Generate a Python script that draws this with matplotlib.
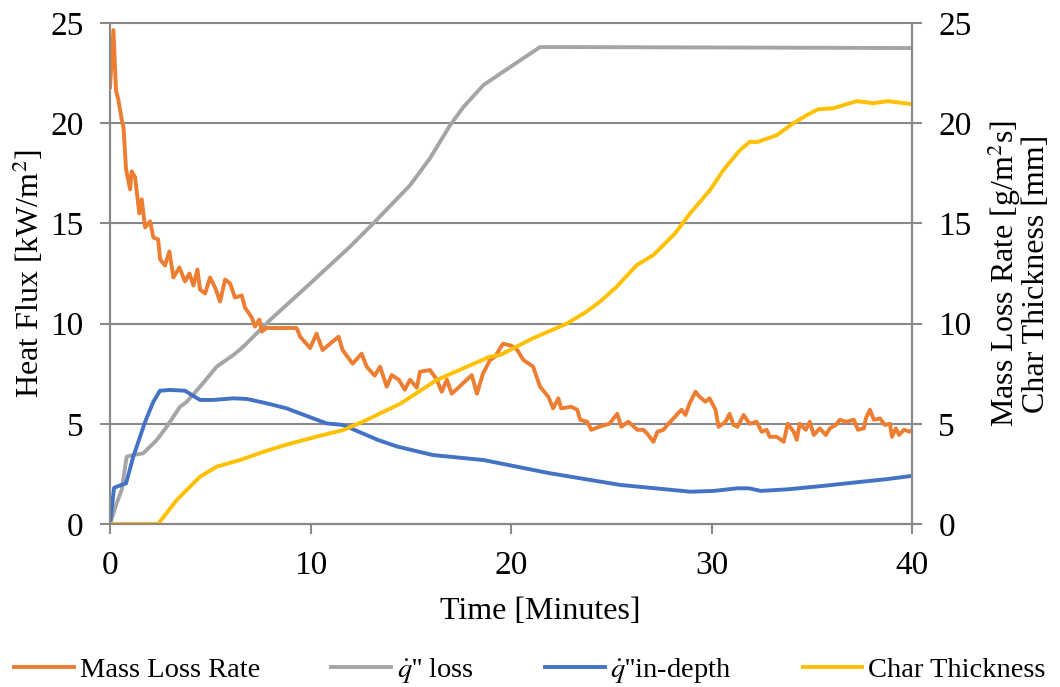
import matplotlib
matplotlib.use("Agg")
import matplotlib.pyplot as plt

plt.rcParams['font.family'] = ['Liberation Serif', 'DejaVu Serif']
plt.rcParams['mathtext.fontset'] = 'stix'

# Mass loss rate [g/m2s] (right axis)
mlr_t = [0.0, 0.17, 0.3, 0.41, 0.58, 0.67, 0.8, 1.0, 1.08, 1.25, 1.46, 1.58, 1.75, 2.0, 2.16,
         2.4, 2.5, 2.74, 2.96, 3.16, 3.46, 3.74, 3.96, 4.16, 4.36, 4.49, 4.74, 4.99, 5.24,
         5.49, 5.74, 5.99, 6.23, 6.57, 6.73, 7.07, 7.23, 7.45, 7.57, 7.8, 9.31, 9.48, 9.98,
         10.3, 10.6, 11.4, 11.6, 12.1, 12.55, 12.8, 13.2, 13.47, 13.8, 14.05, 14.4, 14.7,
         14.96, 15.3, 15.46, 15.96, 16.3, 16.54, 16.8, 17.04, 17.37, 17.8, 18.04, 18.3, 18.6,
         18.95, 19.2, 19.6, 20.0, 20.3, 20.6, 21.1, 21.45, 21.86, 22.1, 22.36, 22.5, 23.0,
         23.3, 23.45, 23.8, 24.0, 24.4, 24.9, 25.3, 25.5, 25.85, 26.3, 26.6, 26.8, 27.1,
         27.3, 27.6, 27.85, 28.1, 28.5, 28.7, 28.9, 29.2, 29.4, 29.7, 29.9, 30.2, 30.35,
         30.7, 30.9, 31.1, 31.3, 31.6, 31.9, 32.25, 32.5, 32.75, 32.9, 33.25, 33.6, 33.8,
         34.1, 34.25, 34.4, 34.7, 34.9, 35.1, 35.4, 35.7, 35.9, 36.2, 36.4, 36.7, 37.1,
         37.3, 37.6, 37.7, 37.9, 38.1, 38.4, 38.65, 38.9, 39.0, 39.2, 39.35, 39.6, 39.9, 40.0]
mlr = [21.8, 24.65, 21.6, 21.2, 20.2, 19.8, 17.7, 16.7, 17.6, 17.3, 15.5, 16.2, 14.8, 15.1, 14.3,
       14.2, 13.2, 12.9, 13.6, 12.3, 12.8, 12.1, 12.5, 11.9, 12.7, 11.7, 11.5, 12.3, 11.8,
       11.1, 12.2, 12.0, 11.3, 11.4, 10.8, 10.3, 9.85, 10.2, 9.6, 9.78, 9.78, 9.35, 8.78,
       9.5, 8.68, 9.35, 8.68, 8.0, 8.5, 7.85, 7.4, 7.85, 6.85, 7.43, 7.2, 6.7,
       7.2, 6.8, 7.6, 7.68, 7.2, 6.6, 7.2, 6.5, 6.8, 7.2, 7.43, 6.5, 7.5,
       8.18, 8.35, 9.0, 8.9, 8.7, 8.2, 7.85, 6.85, 6.35, 5.77, 6.27, 5.77, 5.85,
       5.7, 5.2, 5.1, 4.7, 4.85, 5.0, 5.5, 4.85, 5.1, 4.7, 4.7, 4.5, 4.1,
       4.6, 4.7, 5.0, 5.27, 5.7, 5.44, 6.0, 6.6, 6.35, 6.1, 6.27, 5.7, 4.85,
       5.1, 5.5, 4.94, 4.85, 5.44, 5.0, 5.1, 4.6, 4.7, 4.35, 4.35, 4.1, 5.0,
       4.6, 4.2, 5.0, 4.7, 5.1, 4.44, 4.77, 4.44, 4.77, 4.94, 5.2, 5.1, 5.2,
       4.7, 4.77, 5.27, 5.7, 5.2, 5.27, 4.94, 5.0, 4.35, 4.77, 4.44, 4.7, 4.6, 4.7]

# q'' loss [kW/m2] (left axis)
qloss_t = [0.0, 0.33, 0.58, 0.83, 1.16, 1.66, 2.33, 2.83, 3.49, 3.83, 4.49, 5.32, 6.15, 6.65,
           7.0, 7.98, 9.98, 11.97, 13.13, 14.96, 15.96, 16.96, 17.62, 18.62, 19.95, 21.45,
           22.9, 30.0, 40.0]
qloss = [0.0, 1.03, 1.7, 3.36, 3.44, 3.53, 4.19, 4.86, 5.85, 6.1, 6.85, 7.85, 8.43, 8.85,
         9.2, 10.18, 12.0, 13.84, 15.0, 16.9, 18.25, 19.9, 20.8, 21.9, 22.8, 23.8,
         23.8, 23.78, 23.75]

# q'' in-depth [kW/m2] (left axis)
qdep_t = [0.0, 0.2, 0.33, 0.8, 1.16, 1.75, 2.16, 2.49, 2.99, 3.74, 4.07, 4.49, 5.15, 6.15,
          6.82, 7.82, 8.81, 9.81, 10.8, 11.62, 13.37, 14.34, 16.1, 18.63, 21.94, 25.44,
          28.94, 30.11, 31.28, 31.87, 32.45, 33.81, 35.56, 37.51, 38.68, 40.0]
qdep = [0.0, 1.8, 1.86, 2.03, 3.36, 5.1, 6.1, 6.65, 6.69, 6.65, 6.44, 6.19, 6.19, 6.27,
        6.24, 6.02, 5.77, 5.39, 5.02, 4.94, 4.19, 3.86, 3.44, 3.19, 2.53, 1.95,
        1.61, 1.65, 1.78, 1.78, 1.65, 1.73, 1.9, 2.11, 2.23, 2.4]

# Char thickness [mm] (right axis)
char_t = [0.0, 2.4, 3.33, 4.49, 5.32, 6.48, 7.65, 8.73, 10.3, 11.64, 12.8, 13.47, 14.46,
          16.3, 18.95, 19.45, 21.1, 22.78, 23.77, 24.44, 25.27, 26.27, 27.1, 28.18, 28.93,
          29.93, 30.59, 31.42, 31.92, 32.25, 33.25, 34.08, 34.75, 35.33, 36.07, 36.74,
          37.24, 38.07, 38.8, 40.0]
char = [0.0, 0.0, 1.2, 2.36, 2.86, 3.19, 3.6, 3.94, 4.36, 4.69, 5.19, 5.52, 5.99,
        7.19, 8.35, 8.43, 9.27, 10.0, 10.6, 11.1, 11.84, 12.92, 13.42, 14.5, 15.5,
        16.67, 17.66, 18.66, 19.08, 19.05, 19.4, 20.0, 20.4, 20.7, 20.74, 20.95,
        21.1, 21.0, 21.1, 20.95]

x_ticks = [0, 10, 20, 30, 40]
y_ticks = [0, 5, 10, 15, 20, 25]

c_orange = '#ED7D31'
c_gray = '#A5A5A5'
c_blue = '#4472C4'
c_yellow = '#FFC000'
c_axis = '#898989'
fs = 23
tfs = 24
lw = 2.8

fig = plt.figure(figsize=(10.6, 6.87), dpi=100)
ax = fig.add_axes([0.1038, 0.2373, 0.7566, 0.7292])
ax2 = ax.twinx()

l2, = ax.plot(qloss_t, qloss, color=c_gray, lw=lw)
l3, = ax.plot(qdep_t, qdep, color=c_blue, lw=lw)
l1, = ax2.plot(mlr_t, mlr, color=c_orange, lw=lw)
l4, = ax2.plot(char_t, char, color=c_yellow, lw=lw)

for a in (ax, ax2):
    a.set_xlim(0, 40)
    a.set_ylim(0, 25)
    a.set_yticks(y_ticks)
    for s in a.spines.values():
        s.set_color(c_axis)
        s.set_linewidth(1.5)
    a.spines['top'].set_visible(False)
    a.tick_params(colors=c_axis, labelcolor='black', labelsize=tfs, length=7, width=1.5)
ax.tick_params(axis='x', pad=12)
ax.tick_params(axis='y', pad=12)
ax2.tick_params(axis='y', pad=12)
ax.set_xticks(x_ticks)
ax.yaxis.grid(True, color=c_axis, lw=1.5)
ax.set_axisbelow(True)
for gl in ax.get_ygridlines():
    gl.set_clip_on(False)

ax.set_xlabel('Time [Minutes]', fontsize=fs)
ax.xaxis.set_label_coords(0.536, -0.145)
ax.set_ylabel('Heat Flux [kW/m$^2$]', fontsize=fs, labelpad=3)
ax2.set_ylabel('Mass Loss Rate [g/m$^2$s]\nChar Thickness [mm]', fontsize=fs,
               linespacing=0.95, labelpad=10)

fig.legend([l1, l2, l3, l4],
           ['Mass Loss Rate', "$\\dot{q}$'' loss", "$\\dot{q}$''in-depth", 'Char Thickness'],
           loc='lower center', bbox_to_anchor=(0.5, -0.035), ncol=4, frameon=False,
           fontsize=20.5, handlelength=2.1, handletextpad=0.2, columnspacing=2.5)

fig.savefig('out.png', dpi=100)
